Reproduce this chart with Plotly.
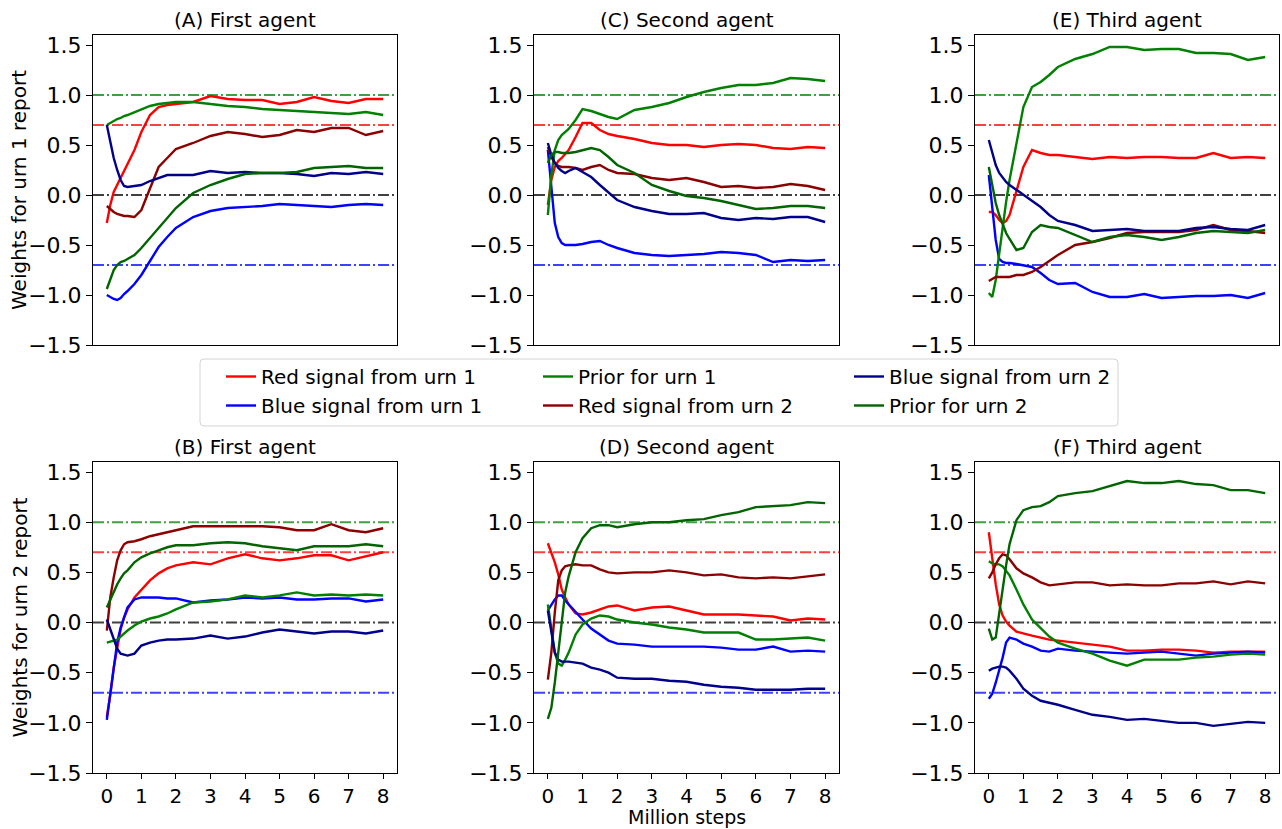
import plotly.graph_objects as go

# ---------------- data ----------------
STEPS = [0, 0.1, 0.2, 0.3, 0.4, 0.5, 0.6, 0.8, 1.0, 1.25, 1.5, 1.75, 2.0,
         2.5, 3.0, 3.5, 4.0, 4.5, 5.0, 5.5, 6.0, 6.5, 7.0, 7.5, 8.0]

SERIES_NAMES = ["Red signal from urn 1", "Blue signal from urn 1", "Prior for urn 1",
                "Red signal from urn 2", "Blue signal from urn 2", "Prior for urn 2"]
SERIES_COLORS = ["#ff0000", "#0000ff", "#008000", "#8b0000", "#00008b", "#006400"]

REF_LEVELS = [1.0, 0.7, 0.0, -0.7]
REF_COLORS = ["rgba(0,128,0,0.75)", "rgba(255,0,0,0.75)", "rgba(0,0,0,0.75)", "rgba(0,0,255,0.75)"]

Y_TICKS = [-1.5, -1.0, -0.5, 0.0, 0.5, 1.0, 1.5]
Y_TICKTEXT = ["\u22121.5", "\u22121.0", "\u22120.5", "0.0", "0.5", "1.0", "1.5"]
X_TICKS = [0, 1, 2, 3, 4, 5, 6, 7, 8]

# (A) First agent, urn 1 report
A_red1 = [-0.28, -0.1, 0.03, 0.1, 0.17, 0.24, 0.3, 0.45, 0.63, 0.8, 0.88, 0.9, 0.91, 0.93, 0.99, 0.96, 0.95, 0.95, 0.91, 0.93, 0.98, 0.94, 0.92, 0.96, 0.96]
A_blue1 = [-1.0, -1.02, -1.04, -1.05, -1.03, -0.99, -0.96, -0.89, -0.8, -0.66, -0.52, -0.42, -0.33, -0.22, -0.16, -0.13, -0.12, -0.11, -0.09, -0.1, -0.11, -0.12, -0.1, -0.09, -0.1]
A_prior1 = [0.7, 0.72, 0.74, 0.76, 0.77, 0.79, 0.8, 0.83, 0.86, 0.89, 0.91, 0.92, 0.93, 0.93, 0.91, 0.89, 0.88, 0.86, 0.85, 0.84, 0.83, 0.82, 0.81, 0.83, 0.8]
A_red2 = [-0.11, -0.14, -0.17, -0.19, -0.2, -0.21, -0.21, -0.22, -0.15, 0.07, 0.28, 0.37, 0.46, 0.52, 0.59, 0.63, 0.61, 0.58, 0.6, 0.65, 0.63, 0.67, 0.67, 0.6, 0.64]
A_blue2 = [0.7, 0.52, 0.37, 0.25, 0.15, 0.09, 0.08, 0.09, 0.1, 0.14, 0.17, 0.2, 0.2, 0.2, 0.24, 0.22, 0.23, 0.22, 0.22, 0.21, 0.19, 0.22, 0.21, 0.23, 0.21]
A_prior2 = [-0.94, -0.85, -0.75, -0.7, -0.67, -0.66, -0.64, -0.6, -0.53, -0.43, -0.32, -0.23, -0.13, 0.02, 0.1, 0.16, 0.21, 0.22, 0.22, 0.23, 0.27, 0.28, 0.29, 0.27, 0.27]

# (C) Second agent, urn 1 report
C_red1 = [-0.1, 0.15, 0.28, 0.34, 0.37, 0.41, 0.45, 0.58, 0.72, 0.72, 0.65, 0.61, 0.59, 0.56, 0.52, 0.5, 0.5, 0.48, 0.5, 0.51, 0.5, 0.47, 0.46, 0.48, 0.47]
C_blue1 = [0.45, 0.05, -0.28, -0.42, -0.48, -0.5, -0.5, -0.5, -0.49, -0.47, -0.46, -0.5, -0.53, -0.58, -0.6, -0.61, -0.6, -0.59, -0.57, -0.58, -0.6, -0.67, -0.65, -0.66, -0.65]
C_prior1 = [-0.2, 0.2, 0.45, 0.55, 0.6, 0.63, 0.66, 0.75, 0.86, 0.84, 0.81, 0.78, 0.76, 0.85, 0.88, 0.92, 0.98, 1.03, 1.07, 1.1, 1.1, 1.12, 1.17, 1.16, 1.14]
C_red2 = [0.48, 0.38, 0.32, 0.29, 0.28, 0.28, 0.28, 0.27, 0.25, 0.28, 0.3, 0.25, 0.22, 0.21, 0.17, 0.15, 0.17, 0.13, 0.08, 0.09, 0.07, 0.08, 0.11, 0.09, 0.05]
C_blue2 = [0.52, 0.4, 0.32, 0.27, 0.24, 0.22, 0.24, 0.27, 0.23, 0.18, 0.1, 0.02, -0.05, -0.12, -0.16, -0.19, -0.19, -0.18, -0.23, -0.25, -0.23, -0.24, -0.22, -0.22, -0.27]
C_prior2 = [0.32, 0.4, 0.43, 0.43, 0.42, 0.42, 0.42, 0.43, 0.45, 0.47, 0.45, 0.38, 0.3, 0.22, 0.1, 0.04, -0.01, -0.03, -0.06, -0.1, -0.14, -0.13, -0.11, -0.11, -0.13]

# (E) Third agent, urn 1 report
E_red1 = [-0.17, -0.17, -0.2, -0.25, -0.28, -0.26, -0.2, 0.05, 0.28, 0.45, 0.42, 0.4, 0.4, 0.38, 0.36, 0.38, 0.37, 0.38, 0.38, 0.37, 0.37, 0.42, 0.37, 0.38, 0.37]
E_blue1 = [0.2, -0.1, -0.45, -0.64, -0.67, -0.68, -0.68, -0.69, -0.7, -0.72, -0.78, -0.85, -0.89, -0.88, -0.97, -1.02, -1.02, -0.99, -1.03, -1.02, -1.01, -1.01, -1.0, -1.03, -0.98]
E_prior1 = [-0.98, -1.02, -0.85, -0.58, -0.32, -0.07, 0.15, 0.53, 0.88, 1.08, 1.13, 1.2, 1.28, 1.36, 1.41, 1.48, 1.48, 1.45, 1.46, 1.46, 1.42, 1.42, 1.41, 1.35, 1.38]
E_red2 = [-0.86, -0.84, -0.82, -0.82, -0.82, -0.82, -0.82, -0.8, -0.8, -0.77, -0.72, -0.66, -0.6, -0.5, -0.47, -0.43, -0.38, -0.37, -0.37, -0.37, -0.35, -0.3, -0.35, -0.36, -0.38]
E_blue2 = [0.55, 0.42, 0.3, 0.22, 0.17, 0.13, 0.1, 0.05, 0.0, -0.06, -0.12, -0.2, -0.26, -0.3, -0.36, -0.35, -0.34, -0.36, -0.36, -0.36, -0.33, -0.32, -0.34, -0.35, -0.3]
E_prior2 = [0.28, 0.08, -0.08, -0.2, -0.3, -0.38, -0.44, -0.55, -0.53, -0.37, -0.3, -0.32, -0.33, -0.4, -0.47, -0.42, -0.4, -0.42, -0.45, -0.42, -0.38, -0.36, -0.37, -0.38, -0.35]

# (B) First agent, urn 2 report
B_red1 = [-0.94, -0.72, -0.45, -0.25, -0.07, 0.05, 0.13, 0.25, 0.33, 0.42, 0.49, 0.54, 0.57, 0.6, 0.58, 0.64, 0.68, 0.64, 0.62, 0.64, 0.67, 0.67, 0.62, 0.66, 0.7]
B_blue1 = [-0.97, -0.72, -0.42, -0.2, -0.05, 0.06, 0.15, 0.23, 0.25, 0.25, 0.25, 0.24, 0.24, 0.2, 0.22, 0.23, 0.25, 0.24, 0.25, 0.23, 0.23, 0.24, 0.24, 0.21, 0.23]
B_prior1 = [-0.2, -0.19, -0.18, -0.17, -0.14, -0.11, -0.08, -0.03, 0.01, 0.04, 0.06, 0.09, 0.13, 0.2, 0.21, 0.23, 0.27, 0.25, 0.27, 0.3, 0.27, 0.28, 0.27, 0.28, 0.27]
B_red2 = [-0.08, 0.25, 0.45, 0.62, 0.72, 0.78, 0.8, 0.81, 0.83, 0.86, 0.88, 0.9, 0.92, 0.96, 0.96, 0.96, 0.96, 0.96, 0.95, 0.92, 0.92, 0.98, 0.92, 0.9, 0.94]
B_blue2 = [0.03, -0.06, -0.16, -0.26, -0.31, -0.32, -0.33, -0.31, -0.23, -0.2, -0.18, -0.17, -0.17, -0.16, -0.13, -0.16, -0.14, -0.1, -0.07, -0.09, -0.11, -0.09, -0.09, -0.11, -0.08]
B_prior2 = [0.15, 0.23, 0.31, 0.38, 0.44, 0.49, 0.52, 0.6, 0.65, 0.69, 0.72, 0.75, 0.77, 0.77, 0.79, 0.8, 0.79, 0.76, 0.74, 0.72, 0.76, 0.76, 0.76, 0.78, 0.76]

# (D) Second agent, urn 2 report
D_red1 = [0.79, 0.7, 0.6, 0.48, 0.33, 0.25, 0.18, 0.09, 0.08, 0.1, 0.13, 0.16, 0.17, 0.12, 0.15, 0.16, 0.12, 0.08, 0.08, 0.08, 0.07, 0.06, 0.02, 0.04, 0.03]
D_blue1 = [0.12, 0.18, 0.23, 0.27, 0.27, 0.22, 0.18, 0.1, 0.03, -0.06, -0.12, -0.18, -0.21, -0.22, -0.24, -0.24, -0.24, -0.24, -0.25, -0.27, -0.27, -0.24, -0.29, -0.28, -0.29]
D_prior1 = [0.18, -0.05, -0.3, -0.41, -0.43, -0.37, -0.3, -0.12, -0.02, 0.04, 0.07, 0.06, 0.03, 0.0, -0.02, -0.05, -0.07, -0.1, -0.1, -0.1, -0.17, -0.17, -0.16, -0.15, -0.18]
D_red2 = [-0.57, -0.3, 0.1, 0.42, 0.52, 0.56, 0.57, 0.58, 0.57, 0.57, 0.53, 0.5, 0.49, 0.5, 0.5, 0.52, 0.5, 0.47, 0.48, 0.45, 0.44, 0.45, 0.44, 0.46, 0.48]
D_blue2 = [0.12, -0.1, -0.3, -0.37, -0.39, -0.39, -0.39, -0.4, -0.41, -0.45, -0.47, -0.5, -0.55, -0.56, -0.56, -0.58, -0.59, -0.62, -0.64, -0.65, -0.67, -0.67, -0.67, -0.66, -0.66]
D_prior2 = [-0.96, -0.85, -0.6, -0.3, 0.05, 0.3, 0.46, 0.7, 0.84, 0.94, 0.97, 0.97, 0.95, 0.98, 1.0, 1.0, 1.02, 1.03, 1.07, 1.1, 1.15, 1.16, 1.17, 1.2, 1.19]

# (F) Third agent, urn 2 report
F_red1 = [0.9, 0.64, 0.38, 0.18, 0.07, 0.01, -0.03, -0.09, -0.11, -0.13, -0.15, -0.17, -0.18, -0.2, -0.22, -0.24, -0.28, -0.28, -0.27, -0.27, -0.28, -0.3, -0.29, -0.29, -0.29]
F_blue1 = [-0.76, -0.71, -0.6, -0.48, -0.35, -0.2, -0.15, -0.17, -0.21, -0.24, -0.28, -0.29, -0.26, -0.28, -0.29, -0.3, -0.31, -0.3, -0.29, -0.31, -0.33, -0.31, -0.3, -0.29, -0.3]
F_prior1 = [0.61, 0.59, 0.58, 0.58, 0.56, 0.51, 0.47, 0.33, 0.18, 0.03, -0.06, -0.14, -0.2, -0.26, -0.31, -0.38, -0.43, -0.37, -0.37, -0.37, -0.35, -0.34, -0.32, -0.31, -0.32]
F_red2 = [0.44, 0.5, 0.58, 0.64, 0.68, 0.67, 0.63, 0.54, 0.49, 0.45, 0.4, 0.37, 0.38, 0.4, 0.4, 0.37, 0.38, 0.37, 0.37, 0.39, 0.39, 0.41, 0.38, 0.41, 0.39]
F_blue2 = [-0.48, -0.46, -0.45, -0.44, -0.44, -0.45, -0.48, -0.56, -0.66, -0.73, -0.78, -0.8, -0.82, -0.87, -0.92, -0.94, -0.97, -0.96, -0.98, -1.0, -1.0, -1.03, -1.01, -0.99, -1.0]
F_prior2 = [-0.06, -0.17, -0.15, 0.1, 0.37, 0.57, 0.78, 1.02, 1.12, 1.15, 1.16, 1.2, 1.26, 1.29, 1.31, 1.36, 1.41, 1.39, 1.39, 1.41, 1.38, 1.37, 1.32, 1.32, 1.29]

PANEL_TITLES = ["(A) First agent", "(C) Second agent", "(E) Third agent",
                "(B) First agent", "(D) Second agent", "(F) Third agent"]
PANEL_DATA = [
    [A_red1, A_blue1, A_prior1, A_red2, A_blue2, A_prior2],
    [C_red1, C_blue1, C_prior1, C_red2, C_blue2, C_prior2],
    [E_red1, E_blue1, E_prior1, E_red2, E_blue2, E_prior2],
    [B_red1, B_blue1, B_prior1, B_red2, B_blue2, B_prior2],
    [D_red1, D_blue1, D_prior1, D_red2, D_blue2, D_prior2],
    [F_red1, F_blue1, F_prior1, F_red2, F_blue2, F_prior2],
]
Y_LABELS = ["Weights for urn 1 report", "Weights for urn 2 report"]
X_LABEL = "Million steps"

# ---------------- layout geometry ----------------
W, H = 1282, 829
ML, MR, MT, MB = 93, 3, 35, 56
PW = W - ML - MR
PH = H - MT - MB

def fx(p):
    return (p - ML) / PW

def fy(p):
    return (H - MB - p) / PH

COLS_PX = [(93, 397), (534, 839), (975, 1279)]
ROWS_PX = [(35, 345), (462, 773)]

FONT = "DejaVu Sans"
YTICK_SIZE = 22
XTICK_SIZE = 20
TEXT_SIZE = 20
fig = go.Figure()
layout = dict(
    width=W, height=H,
    margin=dict(l=ML, r=MR, t=MT, b=MB, pad=0),
    paper_bgcolor="white", plot_bgcolor="white",
    font=dict(family=FONT, size=TEXT_SIZE, color="black"),
    showlegend=True,
)
shapes = []
annotations = []
legend_map = ["legend", "legend", "legend2", "legend2", "legend3", "legend3"]

for i in range(6):
    r, c = divmod(i, 3)
    n = i + 1
    xs = "" if n == 1 else str(n)
    x0p, x1p = COLS_PX[c]
    y0p, y1p = ROWS_PX[r]
    layout["xaxis" + xs] = dict(
        domain=[fx(x0p), fx(x1p)], range=[-0.4, 8.4], anchor="y" + xs,
        showline=True, mirror=True, linecolor="black", linewidth=1,
        showgrid=False, zeroline=False,
        tickvals=X_TICKS, ticks="outside" if r == 1 else "", ticklen=5,
        tickcolor="black", showticklabels=(r == 1),
        tickfont=dict(family=FONT, size=XTICK_SIZE, color="black"),
    )
    layout["yaxis" + xs] = dict(
        domain=[fy(y1p), fy(y0p)], range=[-1.5, 1.6], anchor="x" + xs,
        showline=True, mirror=True, linecolor="black", linewidth=1,
        showgrid=False, zeroline=False,
        tickvals=Y_TICKS, ticktext=Y_TICKTEXT, ticks="outside", ticklen=6,
        tickcolor="black",
        tickfont=dict(family=FONT, size=YTICK_SIZE, color="black"),
    )
    for lvl, col in zip(REF_LEVELS, REF_COLORS):
        shapes.append(dict(
            type="line", xref="x" + xs + " domain", yref="y" + xs,
            x0=0, x1=1, y0=lvl, y1=lvl, layer="below",
            line=dict(color=col, width=2, dash="11px,3px,2px,3px"),
        ))
    for k, vals in enumerate(PANEL_DATA[i]):
        fig.add_trace(go.Scatter(
            x=STEPS, y=vals, mode="lines", name=SERIES_NAMES[k],
            line=dict(color=SERIES_COLORS[k], width=2.4),
            xaxis="x" + xs, yaxis="y" + xs,
            showlegend=(i == 0), legend=legend_map[k],
            hoverinfo="skip",
        ))
    annotations.append(dict(
        text=PANEL_TITLES[i], xref="paper", yref="paper",
        x=fx((x0p + x1p) / 2), y=fy(y0p), xanchor="center", yanchor="bottom",
        yshift=1, showarrow=False, font=dict(family=FONT, size=TEXT_SIZE, color="black"),
    ))

for r in range(2):
    y0p, y1p = ROWS_PX[r]
    annotations.append(dict(
        text=Y_LABELS[r], xref="paper", yref="paper",
        x=fx(19), y=fy((y0p + y1p) / 2), xanchor="center", yanchor="middle",
        textangle=-90, showarrow=False, font=dict(family=FONT, size=TEXT_SIZE, color="black"),
    ))

annotations.append(dict(
    text=X_LABEL, xref="paper", yref="paper",
    x=fx((COLS_PX[1][0] + COLS_PX[1][1]) / 2), y=fy(829), xanchor="center", yanchor="bottom",
    yshift=0, showarrow=False, borderpad=0,
    font=dict(family=FONT, size=19, color="black"),
))

# legend frame (rounded rectangle)
bx0, bx1, by0, by1 = fx(200), fx(1118), fy(426), fy(359)
rx, ry = 4 / PW, 4 / PH
path = (f"M {bx0+rx},{by1} L {bx1-rx},{by1} Q {bx1},{by1} {bx1},{by1-ry} "
        f"L {bx1},{by0+ry} Q {bx1},{by0} {bx1-rx},{by0} L {bx0+rx},{by0} "
        f"Q {bx0},{by0} {bx0},{by0+ry} L {bx0},{by1-ry} Q {bx0},{by1} {bx0+rx},{by1} Z")
shapes.append(dict(type="path", xref="paper", yref="paper", path=path,
                   fillcolor="white", line=dict(color="#d4d4d4", width=1), layer="below"))

LEG_TEXT_PX = [263, 580, 891]
LEG_TOP_PX = 357
for j, name in enumerate(["legend", "legend2", "legend3"]):
    layout[name] = dict(
        x=fx(LEG_TEXT_PX[j] - 42), y=fy(LEG_TOP_PX), xanchor="left", yanchor="top",
        orientation="v", bgcolor="rgba(0,0,0,0)", borderwidth=0,
        font=dict(family=FONT, size=TEXT_SIZE, color="black"), tracegroupgap=0,
    )

layout["shapes"] = shapes
layout["annotations"] = annotations
fig.update_layout(**layout)
fig.write_html("out.html")
